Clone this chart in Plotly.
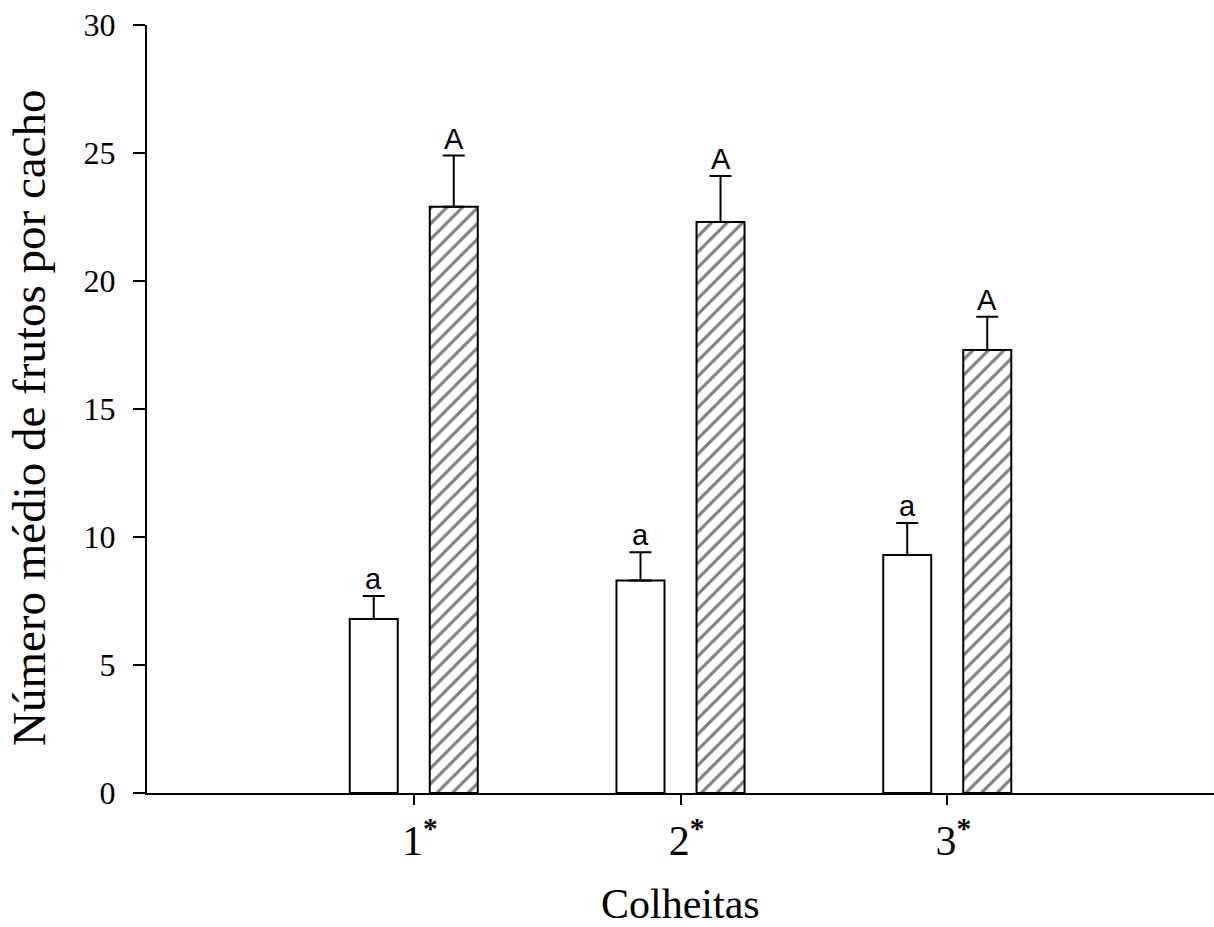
import plotly.graph_objects as go

categories = [1, 2, 3]
tick_labels = ["1<sup><b>*</b></sup>", "2<sup><b>*</b></sup>", "3<sup><b>*</b></sup>"]
white_vals = [6.8, 8.3, 9.3]
white_err = [0.9, 1.1, 1.25]
hatch_vals = [22.9, 22.3, 17.3]
hatch_err = [2.0, 1.8, 1.3]
white_letters = ["a", "a", "a"]
hatch_letters = ["A", "A", "A"]

fig = go.Figure()
fig.add_trace(go.Bar(
    x=categories, y=white_vals, width=0.18, offset=-0.24,
    marker=dict(color="white", line=dict(color="black", width=2)),
    error_y=dict(type="data", array=white_err, arrayminus=[0] * 3, symmetric=False,
                 color="black", thickness=2, width=11),
    showlegend=False,
))
fig.add_trace(go.Bar(
    x=categories, y=hatch_vals, width=0.18, offset=0.06,
    marker=dict(color="white", line=dict(color="black", width=2),
                pattern=dict(shape="/", fgcolor="black", bgcolor="white", size=11, solidity=0.28)),
    error_y=dict(type="data", array=hatch_err, arrayminus=[0] * 3, symmetric=False,
                 color="black", thickness=2, width=11),
    showlegend=False,
))

for i, c in enumerate(categories):
    fig.add_annotation(x=c - 0.15, y=white_vals[i] + white_err[i], text=white_letters[i],
                       showarrow=False, yanchor="bottom", yshift=-1,
                       font=dict(family="Liberation Sans", size=29, color="black"))
    fig.add_annotation(x=c + 0.15, y=hatch_vals[i] + hatch_err[i], text=hatch_letters[i],
                       showarrow=False, yanchor="bottom", yshift=-1,
                       font=dict(family="Liberation Sans", size=29, color="black"))

fig.add_annotation(xref="paper", yref="paper", x=0.5, y=0, yshift=-111, text="Colheitas",
                   showarrow=False, yanchor="middle",
                   font=dict(family="Liberation Serif", size=42, color="black"))
fig.add_annotation(xref="paper", yref="paper", x=0, xshift=-118, y=0.5, yshift=-9,
                   text="Número médio de frutos por cacho",
                   showarrow=False, textangle=-90, xanchor="center", yanchor="middle",
                   font=dict(family="Liberation Serif", size=47, color="black"))

fig.update_layout(
    width=1214, height=927,
    margin=dict(l=147, r=0, t=25, b=134),
    plot_bgcolor="white", paper_bgcolor="white",
    font=dict(family="Liberation Serif", size=32, color="black"),
    barmode="overlay",
)
fig.update_xaxes(range=[0, 4], tickmode="array", tickvals=categories, ticktext=tick_labels,
                 tickfont=dict(family="Liberation Serif", size=42, color="black"),
                 ticklabelshift=6,
                 ticks="outside", ticklen=10, tickwidth=2, tickcolor="black",
                 showline=True, linecolor="black", linewidth=2, showgrid=False, zeroline=False)
fig.update_yaxes(range=[0, 30], tickvals=[0, 5, 10, 15, 20, 25, 30],
                 tickfont=dict(family="Liberation Serif", size=32, color="black"),
                 ticklabelstandoff=11,
                 ticks="outside", ticklen=12, tickwidth=2, tickcolor="black",
                 showline=True, linecolor="black", linewidth=2, showgrid=False, zeroline=False)

fig.write_html("out.html")
